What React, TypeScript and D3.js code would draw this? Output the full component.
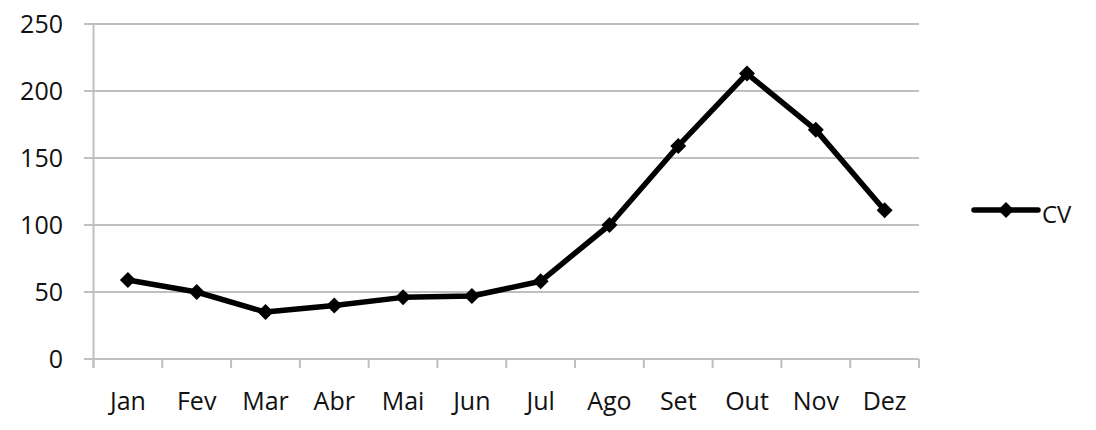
import React from "react";
import * as d3 from "d3";

const months = ["Jan", "Fev", "Mar", "Abr", "Mai", "Jun", "Jul", "Ago", "Set", "Out", "Nov", "Dez"];
const cvValues = [59, 50, 35, 40, 46, 47, 58, 100, 159, 213, 171, 111];
const yTicks = [0, 50, 100, 150, 200, 250];
const seriesName = "CV";

const W = 1096;
const H = 430;
const left = 93.5;
const right = 919;
const top = 24;
const bottom = 359;
const font = "'Open Sans', sans-serif";

function Diamond({ x, y, r }: { x: number; y: number; r: number }) {
  return <path d={`M${x},${y - r}L${x + r},${y}L${x},${y + r}L${x - r},${y}Z`} fill="#000" />;
}

export default function App() {
  const x = d3.scaleBand<string>().domain(months).range([left, right]).padding(0);
  const y = d3.scaleLinear().domain([0, 250]).range([bottom, top]);
  const line = d3
    .line<number>()
    .x((_, i) => (x(months[i]) as number) + x.bandwidth() / 2)
    .y((d) => y(d));

  const boundaries = months.map((m) => x(m) as number).concat([right]);

  return (
    <svg width={W} height={H} style={{ position: "absolute", left: 0, top: 0, background: "#fff" }}>
      {yTicks.map((t) => (
        <g key={t}>
          <line x1={84} x2={right} y1={y(t)} y2={y(t)} stroke="#bfbfbf" strokeWidth={2} />
          <text x={63} y={y(t)} dy="0.36em" textAnchor="end" fontFamily={font} fontSize={25} fill="#111">
            {t}
          </text>
        </g>
      ))}
      <line x1={left} x2={left} y1={top} y2={368} stroke="#bfbfbf" strokeWidth={2} />
      {boundaries.map((b, i) => (
        <line key={i} x1={b} x2={b} y1={bottom} y2={368} stroke="#bfbfbf" strokeWidth={2} />
      ))}
      <line x1={left} x2={right} y1={bottom} y2={bottom} stroke="#bfbfbf" strokeWidth={2} />
      {months.map((m) => (
        <text
          key={m}
          x={(x(m) as number) + x.bandwidth() / 2}
          y={410}
          textAnchor="middle"
          fontFamily={font}
          fontSize={25}
          fill="#111"
        >
          {m}
        </text>
      ))}
      <path d={line(cvValues) || ""} fill="none" stroke="#000" strokeWidth={5.5} strokeLinejoin="round" />
      {cvValues.map((v, i) => (
        <Diamond key={i} x={(x(months[i]) as number) + x.bandwidth() / 2} y={y(v)} r={8} />
      ))}
      <line x1={974} x2={1038} y1={210} y2={210} stroke="#000" strokeWidth={5.5} strokeLinecap="round" />
      <Diamond x={1006} y={210} r={8} />
      <text x={1042} y={223} fontFamily={font} fontSize={24} fill="#111">
        {seriesName}
      </text>
    </svg>
  );
}
